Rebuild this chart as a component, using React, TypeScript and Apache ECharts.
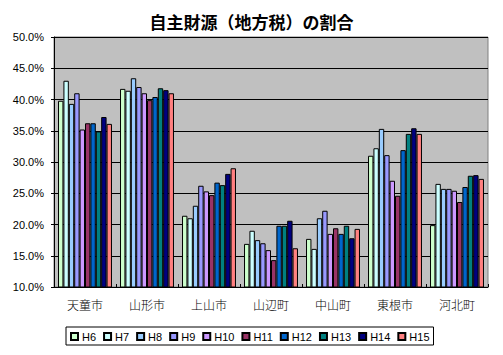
import React, { useEffect, useRef } from "react";
import * as echarts from "echarts";

const categories = ["天童市", "山形市", "上山市", "山辺町", "中山町", "東根市", "河北町"];
const years = ["H6", "H7", "H8", "H9", "H10", "H11", "H12", "H13", "H14", "H15"];
const H6 = [39.8, 41.7, 21.4, 16.9, 17.7, 31.0, 19.9];
const H7 = [43.0, 41.4, 21.0, 19.0, 16.1, 32.2, 26.5];
const H8 = [39.3, 43.4, 23.0, 17.5, 21.0, 35.3, 25.7];
const H9 = [41.0, 42.0, 26.2, 17.0, 22.2, 31.1, 25.7];
const H10 = [35.2, 41.0, 25.3, 15.9, 18.5, 27.0, 25.4];
const H11 = [36.2, 39.9, 24.7, 14.3, 19.4, 24.6, 23.6];
const H12 = [36.2, 40.4, 26.7, 19.8, 18.5, 31.9, 26.0];
const H13 = [34.9, 41.8, 26.3, 19.8, 19.8, 34.5, 27.8];
const H14 = [37.2, 41.5, 28.1, 20.6, 17.8, 35.4, 27.9];
const H15 = [36.1, 41.0, 29.0, 16.2, 19.3, 34.5, 27.3];
const seriesValues = [H6, H7, H8, H9, H10, H11, H12, H13, H14, H15];
const colors = ["#CCFFCC", "#CCFFFF", "#99CCFF", "#9999FF", "#CC99FF", "#993366", "#0066CC", "#008080", "#000080", "#FF8080"];

const FONT = "'Liberation Sans', Arial, sans-serif";
const CJK = "'Noto Sans CJK JP', sans-serif";

export default function App() {
  const ref = useRef<HTMLDivElement>(null);
  useEffect(() => {
    if (!ref.current) return;
    const chart = echarts.init(ref.current, null, { renderer: "svg" });
    chart.setOption({
      animation: false,
      backgroundColor: "#ffffff",
      title: {
        text: "自主財源（地方税）の割合",
        left: "center",
        top: 8,
        textStyle: { fontFamily: CJK, fontSize: 17, fontWeight: "bold", color: "#000" },
      },
      grid: {
        left: 54,
        right: 15,
        top: 37,
        bottom: 68,
        show: true,
        backgroundColor: "#C0C0C0",
        borderColor: "#808080",
        borderWidth: 1,
      },
      legend: {
        data: years,
        left: 66,
        top: 327,
        orient: "horizontal",
        padding: [4, 4, 3, 4],
        borderColor: "#000",
        borderWidth: 1,
        itemWidth: 7,
        itemHeight: 7,
        itemGap: 7,
        icon: "rect",
        textStyle: { fontFamily: FONT, fontSize: 11, color: "#000", padding: [0, 0, 0, -1] },
      },
      xAxis: {
        type: "category",
        data: categories,
        axisLine: { show: true, lineStyle: { color: "#000", width: 1 } },
        axisTick: { show: true, inside: true, length: 3, lineStyle: { color: "#000" } },
        axisLabel: { fontFamily: CJK, fontSize: 12, fontWeight: 300, color: "#000", margin: 11 },
        splitLine: { show: false },
      },
      yAxis: {
        type: "value",
        min: 10,
        max: 50,
        interval: 5,
        axisLine: { show: true, lineStyle: { color: "#000", width: 1 } },
        axisTick: { show: true, length: 3, lineStyle: { color: "#000" } },
        axisLabel: {
          fontFamily: FONT,
          fontSize: 11,
          color: "#000",
          margin: 10,
          formatter: (v: number) => v.toFixed(1) + "%",
        },
        splitLine: { show: true, lineStyle: { color: "#000", width: 1 } },
      },
      series: seriesValues.map((vals, i) => ({
        name: years[i],
        type: "bar",
        data: vals,
        barGap: "0%",
        barCategoryGap: "13%",
        itemStyle: { color: colors[i], borderColor: "#000", borderWidth: 1 },
      })),
    });
    return () => chart.dispose();
  }, []);
  return (
    <div
      ref={ref}
      style={{ position: "absolute", left: 0, top: 0, width: 503, height: 355, background: "#fff" }}
    />
  );
}
